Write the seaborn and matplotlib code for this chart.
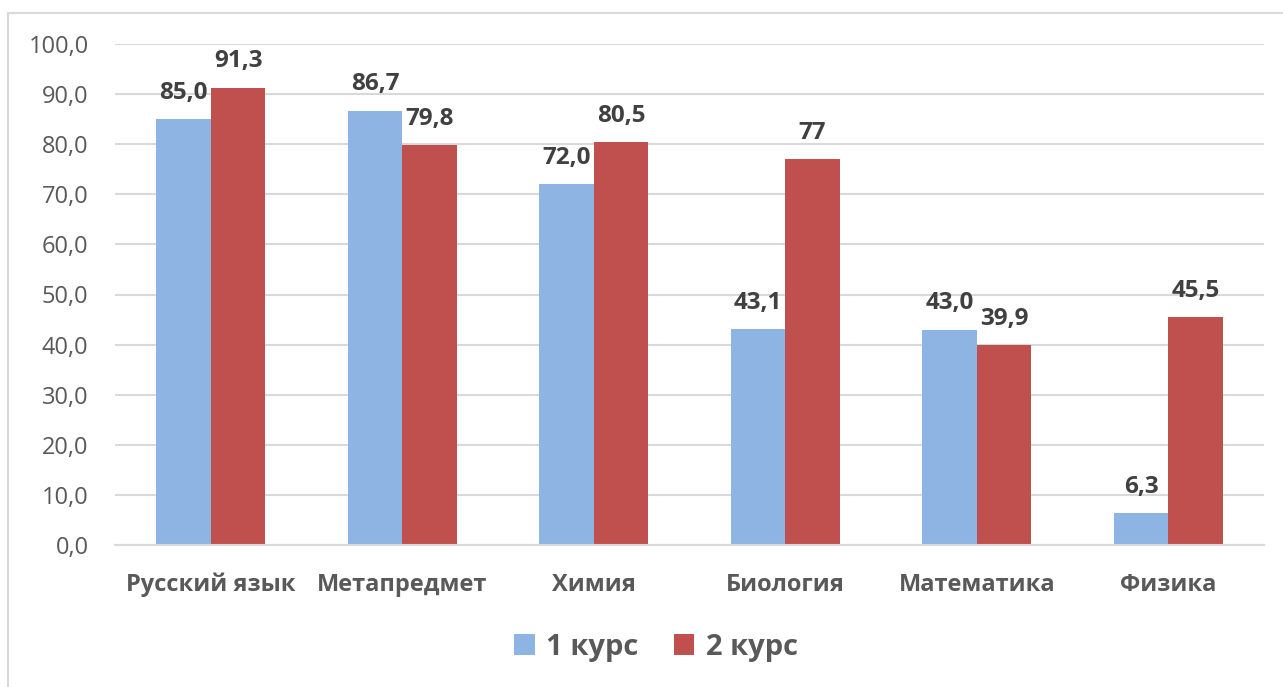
import matplotlib
matplotlib.use("Agg")
import matplotlib.pyplot as plt
import seaborn as sns
import pandas as pd
from matplotlib.patches import Patch, Rectangle

categories = ["Русский язык", "Метапредмет", "Химия", "Биология", "Математика", "Физика"]
series_names = ["1 курс", "2 курс"]
values_1 = [85.0, 86.7, 72.0, 43.1, 43.0, 6.3]
values_2 = [91.3, 79.8, 80.5, 77.0, 39.9, 45.5]
labels_1 = ["85,0", "86,7", "72,0", "43,1", "43,0", "6,3"]
labels_2 = ["91,3", "79,8", "80,5", "77", "39,9", "45,5"]
yticks = [0, 10, 20, 30, 40, 50, 60, 70, 80, 90, 100]
ytick_labels = ["0,0", "10,0", "20,0", "30,0", "40,0", "50,0", "60,0", "70,0", "80,0", "90,0", "100,0"]

colors = ["#8EB4E3", "#C0504D"]

df = pd.DataFrame({
    "cat": categories * 2,
    "series": [series_names[0]] * len(categories) + [series_names[1]] * len(categories),
    "val": values_1 + values_2,
})

sns.set_style("white")
plt.rcParams["font.family"] = ["Open Sans", "DejaVu Sans"]

fig = plt.figure(figsize=(12.83, 6.87), dpi=100)
ax = fig.add_axes([115 / 1283, 1 - 545 / 687, (1264 - 115) / 1283, (545 - 44) / 687])

sns.barplot(data=df, x="cat", y="val", hue="series", order=categories,
            hue_order=series_names, palette=colors, width=0.57, saturation=1,
            ax=ax, legend=False, linewidth=0)

ax.set_xlim(-0.5, len(categories) - 0.5)
ax.set_ylim(0, 100)
ax.set_yticks(yticks)
ax.set_yticklabels(ytick_labels, fontsize=17, color="#595959")
ax.set_xticks(range(len(categories)))
ax.set_xticklabels(categories, fontsize=17, fontweight="bold", color="#595959")
ax.tick_params(axis="x", length=0, pad=20)
ax.tick_params(axis="y", length=0, pad=19)
ax.set_xlabel("")
ax.set_ylabel("")
ax.grid(axis="y", color="#D9D9D9", linewidth=1.5)
ax.set_axisbelow(True)
for s in ["top", "right", "left"]:
    ax.spines[s].set_visible(False)
ax.spines["bottom"].set_color("#D9D9D9")
ax.spines["bottom"].set_linewidth(1.5)

for container, labs in zip(ax.containers, [labels_1, labels_2]):
    for bar, lab in zip(container, labs):
        ax.annotate(lab, (bar.get_x() + bar.get_width() / 2, bar.get_height()),
                    xytext=(0, 14.5), textcoords="offset points", ha="center",
                    va="baseline", fontsize=17.5, fontweight="bold", color="#404040")

handles = [Patch(facecolor=c, edgecolor="none") for c in colors]
fig.legend(handles, series_names, loc="center", bbox_to_anchor=(656 / 1283, 1 - 647 / 687),
           ncol=2, frameon=False, prop={"size": 21, "weight": "bold"},
           labelcolor="#595959", handlelength=0.7, handleheight=0.7,
           handletextpad=0.4, columnspacing=1.2)

fig.patches.append(Rectangle((8 / 1283, -0.01), 1.1, 1 - 13 / 687 + 0.01,
                             transform=fig.transFigure, fill=False,
                             edgecolor="#D9D9D9", linewidth=1.5))

fig.savefig("out.png", dpi=100)
